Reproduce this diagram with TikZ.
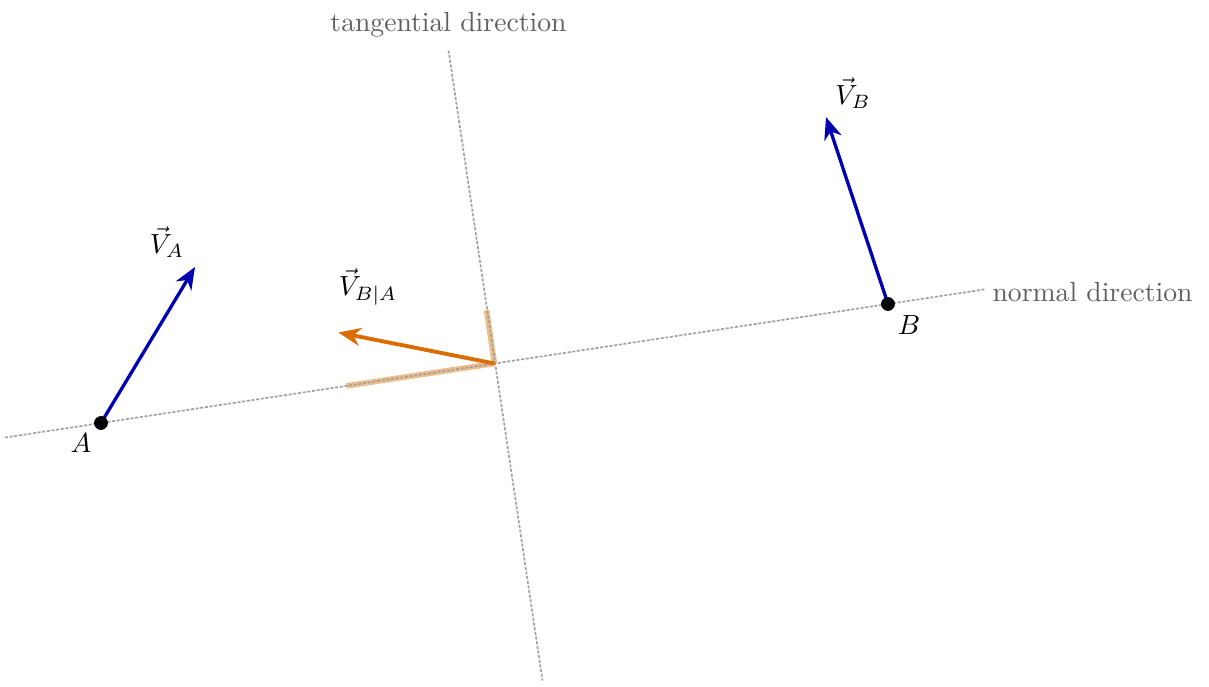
\documentclass[tikz,border=0pt]{standalone}
\usetikzlibrary{arrows.meta,calc}
\definecolor{vblue}{RGB}{0,0,178}
\definecolor{vorange}{RGB}{218,108,0}
\definecolor{lgray}{RGB}{160,160,160}
\definecolor{tgray}{RGB}{95,95,95}
\tikzset{
  guide/.style={lgray, line width=0.6pt, dash pattern=on 1.1pt off 0.6pt},
  vel/.style={vblue, line width=1.2pt, -{Stealth[length=8pt,width=6.5pt,inset=2.5pt]}},
  rel/.style={vorange, line width=1.4pt, -{Stealth[length=8pt,width=6.5pt,inset=2.5pt]}},
  comp/.style={vorange, opacity=0.45, line width=2pt},
  dot/.style={circle, fill=black, inner sep=0pt, minimum size=5pt},
  dirlabel/.style={tgray, font=\normalsize},
}
\begin{document}
\begin{tikzpicture}[x=0.3615pt, y=-0.3615pt]
\useasboundingbox (0,0) rectangle (1209,687);
% points
\coordinate (A) at (101,423);
\coordinate (B) at (888,304);
\coordinate (M) at ($(A)!0.5!(B)$);
\coordinate (N1) at ($(A)!-0.122!(B)$);
\coordinate (N2) at ($(B)!-0.123!(A)$);
\coordinate (T1) at ($(M)+(-46,-313)$);
\coordinate (T2) at ($(M)+(48,317)$);
\coordinate (VA) at ($(A)+(94,-156)$);
\coordinate (VB) at ($(B)+(-62,-187)$);
\coordinate (VR) at ($(M)+(-156,-31)$);
\coordinate (CN) at ($(M)+(-148,22.4)$);
\coordinate (CT) at ($(M)+(-8,-53.3)$);
% components
\draw[comp] (M) -- (CN);
\draw[comp] (M) -- (CT);
% guide lines
\draw[guide] (N1) -- (N2);
\draw[guide] (T1) -- (T2);
\node[dirlabel, anchor=south] (tl) at ($(T1)+(0,-4)$) {tangential direction};
\node[dirlabel, anchor=west] (nl) at ($(N2)+(-2,3)$) {normal direction};
% velocities
\draw[vel] (A) -- (VA);
\draw[vel] (B) -- (VB);
\draw[rel] (M) -- (VR);
\node[dot] (dA) at (A) {};
\node[dot] (dB) at (B) {};
\node (lA) at (81,443) {$A$};
\node (lB) at (909,325) {$B$};
\node (lVA) at (167,242) {$\vec{V}_A$};
\node (lVB) at (853,93) {$\vec{V}_B$};
\node (lVR) at (368,287) {$\vec{V}_{B|A}$};
\end{tikzpicture}
\end{document}
